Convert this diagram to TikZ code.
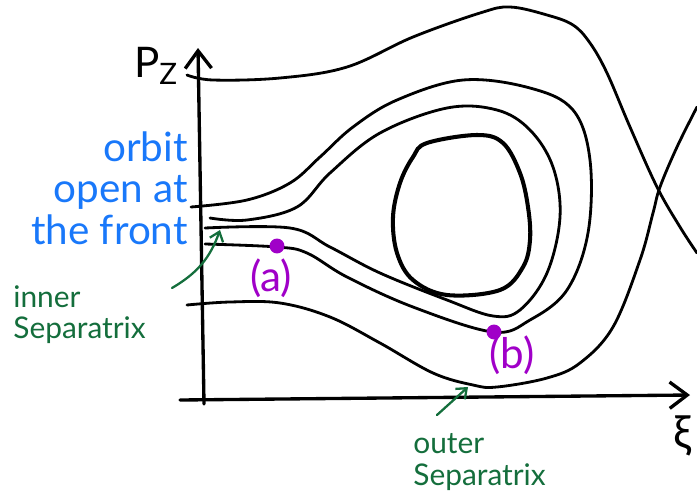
\documentclass[tikz,border=0pt]{standalone}
\usepackage{fontspec}
\setmainfont{Lato}
\usetikzlibrary{arrows.meta, positioning}
\definecolor{OrbitBlue}{RGB}{25, 120, 250}
\definecolor{SepGreen}{RGB}{20, 110, 60}
\definecolor{PointPurple}{RGB}{160, 0, 200}

\begin{document}
\begin{tikzpicture}[
    x=0.02cm, y=-0.02cm,
    line cap=round, line join=round,
    axisline/.style={draw=black, line width=1.9pt, -{Straight Barb[length=10pt, width=15pt]}},
    orbit/.style={draw=black, line width=1.6pt},
    island/.style={draw=black, line width=2.3pt},
    sepnote/.style={text=SepGreen, font=\fontsize{17}{18}\selectfont, align=left, inner sep=0pt},
    sepptr/.style={draw=SepGreen, line width=1.3pt, -{Straight Barb[length=5pt, width=8pt]}},
    ptdot/.style={circle, fill=PointPurple, inner sep=0pt, minimum size=8.5pt},
    ptlabel/.style={text=PointPurple, font=\fontsize{24}{24}\selectfont, inner sep=0pt}
  ]
    \useasboundingbox (0,0) rectangle (697,494);

    % Axes
    \draw[axisline] (204,404) -- (198,48);
    \draw[axisline] (180,400) -- (690,395);
    \node[inner sep=0pt, font=\fontsize{24}{24}\selectfont] (pz) at (156,66) {P\textsubscript{Z}};
    \node[inner sep=0pt, font=\fontsize{26}{26}\selectfont] (xi) at (682,436) {ξ};

    % Top curve, running off to the right
    \draw[orbit] plot[smooth, tension=0.6] coordinates {
      (187,75) (213,80) (280,78) (347,67) (413,37) (480,13) (510,7) (547,15)
      (573,25) (590,43) (607,73) (630,127) (657,187) (680,227) (697,253)};

    % Outer separatrix
    \draw[orbit] plot[smooth, tension=0.6] coordinates {
      (187,305) (230,302) (280,303) (330,317) (380,343) (433,373) (473,385)
      (497,387) (547,378) (580,363) (613,327) (640,260) (653,213) (660,187)
      (677,147) (697,107)};

    % Orbit open at the front
    \draw[orbit] plot[smooth, tension=0.6] coordinates {
      (191,207) (247,200) (290,183) (320,157) (353,127) (397,100) (463,80)
      (530,88) (573,110) (590,160) (588,233) (567,290) (530,320) (493,332)
      (413,307) (347,277) (307,253) (277,247) (205,244)};

    % Inner separatrix
    \draw[orbit] plot[smooth, tension=0.6] coordinates {
      (210,218) (247,220) (297,207) (330,173) (380,133) (447,108) (497,110)
      (530,130) (553,167) (560,217) (547,273) (520,310) (493,316) (447,300)
      (380,273) (330,247) (290,228) (205,228)};

    % Closed orbit
    \draw[island] plot[smooth cycle, tension=0.6] coordinates {
      (427,143) (477,135) (503,143) (520,173) (528,207) (530,240) (523,267)
      (500,290) (447,295) (413,280) (397,253) (393,217) (400,183) (413,157)};

    % Points (a) and (b)
    \node[ptdot] (pa) at (277,246) {};
    \node[ptdot] (pb) at (494,332) {};
    \node[ptlabel] (palbl) at (271,278) {(a)};
    \node[ptlabel] (pblbl) at (512,355) {(b)};

    % Labels
    \node[text=OrbitBlue, font=\fontsize{23}{23.5}\selectfont, align=right, inner sep=0pt,
      anchor=east] (openlbl) at (188,188) {orbit\\open at\\the front};

    \node[sepnote, anchor=north west] (innerlbl) at (13,285) {inner\\Separatrix};
    \coordinate (innerfoot) at (172,288);
    \coordinate (innertip) at (220,230);
    \draw[sepptr] (innerfoot) to[bend right=20] (innertip);

    \node[sepnote, anchor=north west] (outerlbl) at (413,433) {outer\\Separatrix};
    \coordinate (outerfoot) at (437,415);
    \coordinate (outertip) at (468,387);
    \draw[sepptr] (outerfoot) -- (outertip);
  \end{tikzpicture}
\end{document}
